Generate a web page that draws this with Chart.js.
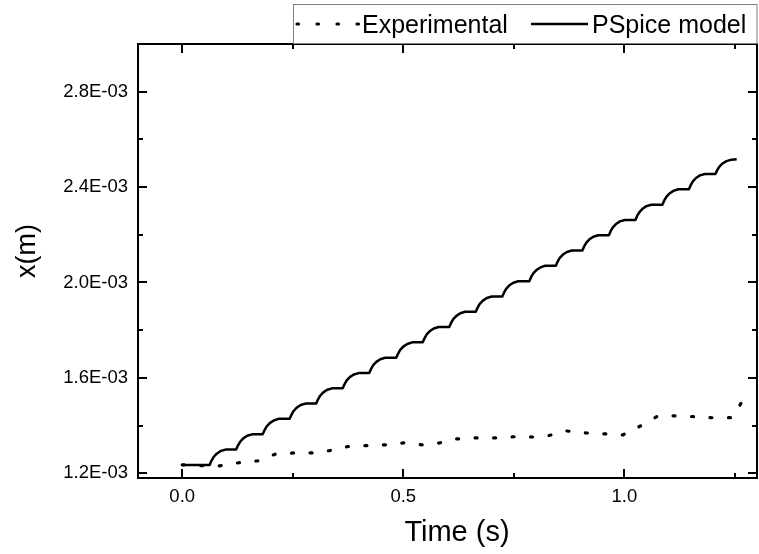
<!DOCTYPE html>
<html lang="en">
<head>
    <meta charset="UTF-8">
    <title>Displacement vs Time</title>
    <script src="https://cdn.jsdelivr.net/npm/chart.js"></script>
    <style>
        body {
            margin: 0;
            padding: 0;
            background-color: #ffffff;
        }
    </style>
</head>
<body>
    <canvas id="posChart" width="759" height="554"></canvas>

    <script>
        // Experimental displacement (values in 1E-03 m)
        const expTime = [0.000, 0.044, 0.085, 0.128, 0.171, 0.212, 0.252, 0.295, 0.334, 0.375, 0.417, 0.458,
            0.501, 0.544, 0.582, 0.621, 0.664, 0.707, 0.750, 0.793, 0.829, 0.870, 0.913, 0.956,
            0.997, 1.036, 1.076, 1.119, 1.162, 1.203, 1.244, 1.266];
        const expMm = [1.235, 1.232, 1.231, 1.244, 1.252, 1.281, 1.285, 1.285, 1.295, 1.312, 1.316, 1.319,
            1.327, 1.319, 1.327, 1.344, 1.348, 1.348, 1.353, 1.352, 1.358, 1.377, 1.369, 1.365,
            1.361, 1.398, 1.440, 1.441, 1.437, 1.432, 1.433, 1.500];

        // PSpice model displacement, one row per step
        const modelTime = [
            0.000,
            0.062, 0.066, 0.071, 0.078, 0.087, 0.098,
            0.122, 0.126, 0.131, 0.138, 0.147, 0.158,
            0.182, 0.186, 0.191, 0.198, 0.207, 0.218,
            0.243, 0.247, 0.252, 0.259, 0.268, 0.279,
            0.303, 0.307, 0.312, 0.319, 0.328, 0.339,
            0.363, 0.367, 0.372, 0.379, 0.388, 0.399,
            0.423, 0.427, 0.432, 0.439, 0.448, 0.459,
            0.484, 0.488, 0.493, 0.500, 0.509, 0.520,
            0.544, 0.548, 0.553, 0.560, 0.569, 0.580,
            0.604, 0.608, 0.613, 0.620, 0.629, 0.640,
            0.664, 0.668, 0.673, 0.680, 0.689, 0.700,
            0.724, 0.728, 0.733, 0.740, 0.749, 0.760,
            0.785, 0.789, 0.794, 0.801, 0.810, 0.821,
            0.845, 0.849, 0.854, 0.861, 0.870, 0.881,
            0.905, 0.909, 0.914, 0.921, 0.930, 0.941,
            0.965, 0.969, 0.974, 0.981, 0.990, 1.001,
            1.025, 1.029, 1.034, 1.041, 1.050, 1.061,
            1.086, 1.090, 1.095, 1.102, 1.111, 1.122,
            1.146, 1.150, 1.155, 1.162, 1.171, 1.182,
            1.206, 1.210, 1.215, 1.222, 1.231, 1.242, 1.254
        ];
        const modelMm = [
            1.235,
            1.235, 1.252, 1.268, 1.282, 1.293, 1.299,
            1.299, 1.316, 1.332, 1.346, 1.357, 1.363,
            1.363, 1.380, 1.396, 1.410, 1.421, 1.428,
            1.428, 1.445, 1.461, 1.475, 1.486, 1.492,
            1.492, 1.509, 1.525, 1.539, 1.550, 1.556,
            1.556, 1.573, 1.589, 1.603, 1.614, 1.620,
            1.620, 1.637, 1.653, 1.667, 1.678, 1.684,
            1.684, 1.701, 1.717, 1.731, 1.742, 1.749,
            1.749, 1.766, 1.782, 1.796, 1.807, 1.813,
            1.813, 1.830, 1.846, 1.860, 1.871, 1.877,
            1.877, 1.894, 1.910, 1.924, 1.935, 1.941,
            1.941, 1.958, 1.974, 1.988, 1.999, 2.005,
            2.005, 2.022, 2.038, 2.052, 2.063, 2.070,
            2.070, 2.087, 2.103, 2.117, 2.128, 2.134,
            2.134, 2.151, 2.167, 2.181, 2.192, 2.198,
            2.198, 2.215, 2.231, 2.245, 2.256, 2.262,
            2.262, 2.279, 2.295, 2.309, 2.320, 2.326,
            2.326, 2.343, 2.359, 2.373, 2.384, 2.391,
            2.391, 2.408, 2.424, 2.438, 2.449, 2.455,
            2.455, 2.471, 2.486, 2.499, 2.509, 2.515, 2.517
        ];

        // Axis ticks
        const xMajorTicks = [0.0, 0.5, 1.0];
        const xMinorTicks = [0.25, 0.75, 1.25];
        const yMajorTicks = [1.2, 1.6, 2.0, 2.4, 2.8];
        const yMinorTicks = [1.4, 1.8, 2.2, 2.6];

        const seriesNames = ['Experimental', 'PSpice model'];

        const FONT = 'Arial, "Liberation Sans", sans-serif';

        // Box frame with inward ticks on all four sides, legend and axis titles
        const framePlugin = {
            id: 'framePlugin',
            afterDraw(chart) {
                const { ctx, chartArea: a, scales: { x, y } } = chart;
                ctx.save();
                ctx.strokeStyle = '#000';
                ctx.lineWidth = 2;
                ctx.strokeRect(a.left, a.top, a.right - a.left, a.bottom - a.top);

                ctx.beginPath();
                const xTick = (v, len) => {
                    const px = Math.round(x.getPixelForValue(v));
                    ctx.moveTo(px, a.bottom); ctx.lineTo(px, a.bottom - len);
                    ctx.moveTo(px, a.top); ctx.lineTo(px, a.top + len);
                };
                const yTick = (v, len) => {
                    const py = Math.round(y.getPixelForValue(v));
                    ctx.moveTo(a.left, py); ctx.lineTo(a.left + len, py);
                    ctx.moveTo(a.right, py); ctx.lineTo(a.right - len, py);
                };
                xMajorTicks.forEach(v => xTick(v, 9));
                xMinorTicks.forEach(v => xTick(v, 5));
                yMajorTicks.forEach(v => yTick(v, 9));
                yMinorTicks.forEach(v => yTick(v, 5));
                ctx.stroke();

                // legend box sitting on the top edge
                ctx.lineWidth = 1;
                ctx.strokeStyle = '#808080';
                ctx.strokeRect(293.5, 4.5, a.right - 293.5, a.top - 5);

                ctx.strokeStyle = '#000';
                ctx.lineWidth = 3.2;
                ctx.lineCap = 'round';
                ctx.setLineDash([1.5, 18.5]);
                ctx.beginPath();
                ctx.moveTo(297, 24); ctx.lineTo(360, 24);
                ctx.stroke();
                ctx.setLineDash([]);
                ctx.lineCap = 'butt';
                ctx.lineWidth = 2.5;
                ctx.beginPath();
                ctx.moveTo(531, 24); ctx.lineTo(588, 24);
                ctx.stroke();

                ctx.fillStyle = '#000';
                ctx.font = '25px ' + FONT;
                ctx.textBaseline = 'alphabetic';
                ctx.textAlign = 'left';
                ctx.fillText(seriesNames[0], 362, 33);
                ctx.fillText(seriesNames[1], 592, 33);

                // axis titles
                ctx.font = '29px ' + FONT;
                ctx.textAlign = 'center';
                ctx.textBaseline = 'middle';
                ctx.fillText('Time (s)', 457, 533);
                ctx.font = '27px ' + FONT;
                ctx.translate(28, 251);
                ctx.rotate(-Math.PI / 2);
                ctx.fillText('x(m)', 0, 0);
                ctx.restore();
            }
        };

        const ctx = document.getElementById('posChart').getContext('2d');

        const chart = new Chart(ctx, {
            type: 'line',
            data: {
                datasets: [
                    {
                        label: seriesNames[0],
                        data: expTime.map((t, i) => ({ x: t, y: expMm[i] })),
                        borderColor: '#000',
                        borderWidth: 3.2,
                        borderDash: [2, 16.5],
                        borderCapStyle: 'round',
                        pointRadius: 0,
                        tension: 0
                    },
                    {
                        label: seriesNames[1],
                        data: modelTime.map((t, i) => ({ x: t, y: modelMm[i] })),
                        borderColor: '#000',
                        borderWidth: 2.5,
                        borderJoinStyle: 'round',
                        pointRadius: 0,
                        tension: 0
                    }
                ]
            },
            options: {
                responsive: false,
                animation: false,
                layout: { padding: { top: 44, right: 2, left: 0, bottom: 0 } },
                plugins: {
                    legend: { display: false },
                    tooltip: { enabled: false }
                },
                scales: {
                    x: {
                        type: 'linear',
                        min: -0.1,
                        max: 1.3,
                        afterBuildTicks: s => { s.ticks = xMajorTicks.map(v => ({ value: v })); },
                        afterFit: s => { s.height = 76; },
                        grid: { display: false, drawTicks: false },
                        border: { display: false },
                        ticks: {
                            callback: v => v.toFixed(1),
                            color: '#000',
                            padding: 8,
                            maxRotation: 0,
                            autoSkip: false,
                            font: { size: 18.5, family: FONT }
                        }
                    },
                    y: {
                        type: 'linear',
                        min: 1.18,
                        max: 3.0,
                        afterBuildTicks: s => { s.ticks = yMajorTicks.map(v => ({ value: v })); },
                        afterFit: s => { s.width = 138; },
                        grid: { display: false, drawTicks: false },
                        border: { display: false },
                        ticks: {
                            callback: v => v.toFixed(1) + 'E-03',
                            color: '#000',
                            padding: 10,
                            autoSkip: false,
                            font: { size: 18.5, family: FONT }
                        }
                    }
                }
            },
            plugins: [framePlugin]
        });
    </script>
</body>
</html>
